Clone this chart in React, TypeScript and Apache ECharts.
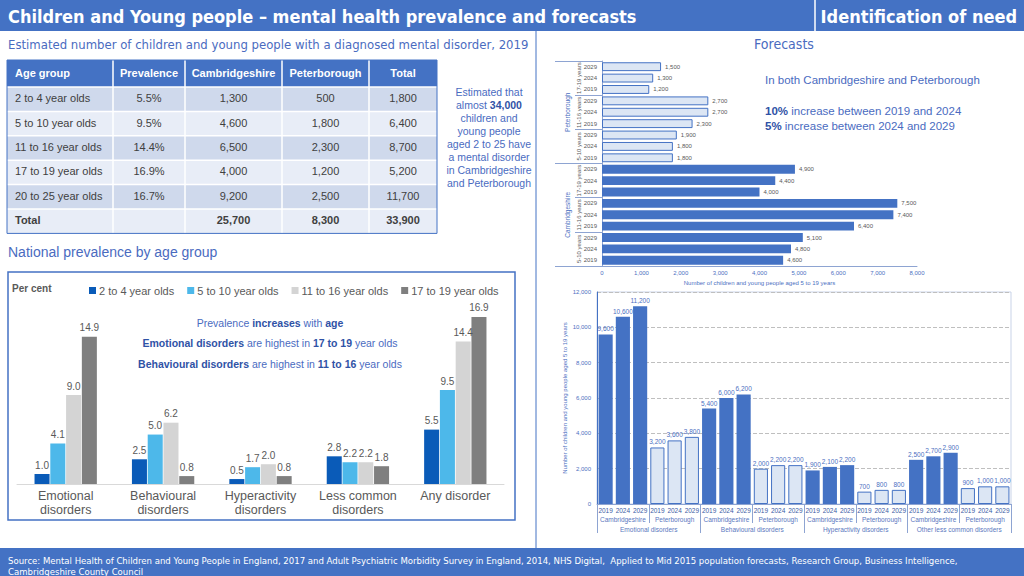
import React, { useEffect, useRef } from "react";
import * as echarts from "echarts";

// ---------- Data ----------
const tableHeaders = ["Age group", "Prevalence", "Cambridgeshire", "Peterborough", "Total"];
const ageGroups = ["2 to 4 year olds", "5 to 10 year olds", "11 to 16 year olds", "17 to 19 year olds", "20 to 25 year olds"];
const prevalenceRates = ["5.5%", "9.5%", "14.4%", "16.9%", "16.7%"];
const cambsCounts = [1300, 4600, 6500, 4000, 9200];
const pboroCounts = [500, 1800, 2300, 1200, 2500];
const totalCounts = [1800, 6400, 8700, 5200, 11700];
const tableTotals = [25700, 8300, 33900];

const prevCategories = ["Emotional\ndisorders", "Behavioural\ndisorders", "Hyperactivity\ndisorders", "Less common\ndisorders", "Any disorder"];
const prevSeriesNames = ["2 to 4 year olds", "5 to 10 year olds", "11 to 16 year olds", "17 to 19 year olds"];
const prev2to4 = [1.0, 2.5, 0.5, 2.8, 5.5];
const prev5to10 = [4.1, 5.0, 1.7, 2.2, 9.5];
const prev11to16 = [9.0, 6.2, 2.0, 2.2, 14.4];
const prev17to19 = [14.9, 0.8, 0.8, 1.8, 16.9];
const prevColors = ["#0A5BB8", "#4DB8EA", "#D4D4D4", "#7F7F7F"];

const fcRegions = ["Peterborough", "Cambridgeshire"];
const fcAges = ["17-19 years", "11-16 years", "5-10 years"];
const fcYears = ["2029", "2024", "2019"];
const fcPeterborough = [[1500, 1300, 1200], [2700, 2700, 2300], [1900, 1800, 1800]];
const fcCambridgeshire = [[4900, 4400, 4000], [7500, 7400, 6400], [5100, 4800, 4600]];
const fcTicks = { min: 0, max: 8000, step: 1000 };

const disorders = ["Emotional disorders", "Behavioural disorders", "Hyperactivity disorders", "Other less common disorders"];
const areas = ["Cambridgeshire", "Peterborough"];
const years = ["2019", "2024", "2029"];
const cambsByDisorder = [[9600, 10600, 11200], [5400, 6000, 6200], [1900, 2100, 2200], [2500, 2700, 2900]];
const pboroByDisorder = [[3200, 3600, 3800], [2000, 2200, 2200], [700, 800, 800], [900, 1000, 1000]];
const disTicks = { min: 0, max: 12000, step: 2000 };

// ---------- Styles ----------
const FONT = '"Liberation Sans", Arial, sans-serif';
const NARROW = '"Liberation Sans Narrow", "Arial Narrow", "DejaVu Sans Condensed", sans-serif';
const BLUE = "#4472C4";
const TXT_BLUE = "#4A6BBF";
const BOLD_BLUE = "#2F52A6";
const AXIS_BLUE = "#8EA4D2";
const fmt = (v: number) => Number(v).toLocaleString("en-US");

function buildGraphics() {
  const g: any[] = [];
  // header
  g.push({ type: "rect", shape: { x: 0, y: 0, width: 1024, height: 31 }, style: { fill: BLUE } });
  g.push({ type: "line", shape: { x1: 815, y1: 0, x2: 815, y2: 31 }, style: { stroke: "#fff", lineWidth: 1.5 } });
  g.push({ type: "text", x: 8, y: 16, style: { text: "Children and Young people – mental health prevalence and forecasts", fill: "#fff", fontSize: 18, fontWeight: "bold", fontFamily: NARROW, verticalAlign: "middle" } });
  g.push({ type: "text", x: 1017, y: 16, style: { text: "Identification of need", fill: "#fff", fontSize: 18, fontWeight: "bold", fontFamily: NARROW, align: "right", verticalAlign: "middle" } });
  // divider
  g.push({ type: "line", shape: { x1: 536, y1: 31, x2: 536, y2: 548 }, style: { stroke: BLUE, lineWidth: 1 } });
  // subtitles
  g.push({ type: "text", x: 8, y: 44, style: { text: "Estimated number of children and young people with a diagnosed mental disorder, 2019", fill: TXT_BLUE, fontSize: 13, fontFamily: NARROW, verticalAlign: "middle" } });
  g.push({ type: "text", x: 784, y: 44, style: { text: "Forecasts", fill: TXT_BLUE, fontSize: 14, fontFamily: NARROW, align: "center", verticalAlign: "middle" } });
  g.push({ type: "text", x: 8, y: 252, style: { text: "National prevalence by age group", fill: TXT_BLUE, fontSize: 14, fontFamily: FONT, verticalAlign: "middle" } });

  // table
  const colX = [7, 113, 185, 282, 369, 437];
  const top = 60;
  const headH = 27;
  const rowH = 24.4;
  const rowsY = [top, top + headH];
  for (let i = 1; i <= 6; i++) rowsY.push(top + headH + i * rowH);
  for (let r = 0; r < 7; r++) {
    const fill = r === 0 ? BLUE : r % 2 === 1 ? "#CFD9EC" : "#E8EDF7";
    g.push({ type: "rect", shape: { x: colX[0], y: rowsY[r], width: colX[5] - colX[0], height: rowsY[r + 1] - rowsY[r] }, style: { fill } });
  }
  for (let r = 1; r < 7; r++) g.push({ type: "line", shape: { x1: colX[0], y1: rowsY[r], x2: colX[5], y2: rowsY[r] }, style: { stroke: "#fff", lineWidth: 1.5 } });
  for (let c = 1; c < 5; c++) g.push({ type: "line", shape: { x1: colX[c], y1: rowsY[0], x2: colX[c], y2: rowsY[7] }, style: { stroke: "#fff", lineWidth: 1.5 } });
  g.push({ type: "rect", shape: { x: colX[0], y: rowsY[0], width: colX[5] - colX[0], height: rowsY[7] - rowsY[0] }, style: { fill: "none", stroke: BLUE, lineWidth: 1 } });
  const cellText = (r: number, c: number, text: string, bold: boolean, color: string) => {
    const yMid = (rowsY[r] + rowsY[r + 1]) / 2 - 1;
    const x = c === 0 ? colX[0] + 8 : (colX[c] + colX[c + 1]) / 2;
    g.push({ type: "text", x, y: yMid, style: { text, fill: color, fontSize: 11, fontWeight: bold ? "bold" : "normal", fontFamily: FONT, align: c === 0 ? "left" : "center", verticalAlign: "middle" } });
  };
  tableHeaders.forEach((h, c) => cellText(0, c, h, true, "#fff"));
  ageGroups.forEach((a, i) => {
    cellText(i + 1, 0, a, false, "#404040");
    cellText(i + 1, 1, prevalenceRates[i], false, "#404040");
    cellText(i + 1, 2, fmt(cambsCounts[i]), false, "#404040");
    cellText(i + 1, 3, fmt(pboroCounts[i]), false, "#404040");
    cellText(i + 1, 4, fmt(totalCounts[i]), false, "#404040");
  });
  cellText(6, 0, "Total", true, "#404040");
  tableTotals.forEach((t, i) => cellText(6, i + 2, fmt(t), true, "#404040"));

  // callout text next to table
  const callout = ["{r|Estimated that}", "{r|almost }{b|34,000}", "{r|children and}", "{r|young people}", "{r|aged 2 to 25 have}", "{r|a mental disorder}", "{r|in Cambridgeshire}", "{r|and Peterborough}"];
  callout.forEach((t, i) => {
    g.push({ type: "text", x: 489, y: 92 + i * 13, style: { text: t, align: "center", verticalAlign: "middle", rich: { r: { fontSize: 10.5, fill: TXT_BLUE, fontFamily: FONT }, b: { fontSize: 10.5, fill: BOLD_BLUE, fontWeight: "bold", fontFamily: FONT } } } });
  });

  // forecast notes
  const richNote = { r: { fontSize: 11.5, fill: TXT_BLUE, fontFamily: FONT }, b: { fontSize: 11.5, fill: BOLD_BLUE, fontWeight: "bold", fontFamily: FONT } };
  g.push({ type: "text", x: 765, y: 80, style: { text: "{r|In both Cambridgeshire and Peterborough}", verticalAlign: "middle", rich: richNote } });
  g.push({ type: "text", x: 765, y: 111, style: { text: "{b|10%}{r| increase between 2019 and 2024}", verticalAlign: "middle", rich: richNote } });
  g.push({ type: "text", x: 765, y: 126, style: { text: "{b|5%}{r| increase between 2024 and 2029}", verticalAlign: "middle", rich: richNote } });

  // prevalence chart box and notes
  g.push({ type: "rect", shape: { x: 8, y: 272, width: 507, height: 248 }, style: { fill: "none", stroke: BLUE, lineWidth: 1.5 } });
  g.push({ type: "text", x: 12, y: 288, style: { text: "Per cent", fill: "#595959", fontSize: 10, fontWeight: "bold", fontFamily: FONT, verticalAlign: "middle" } });
  const richPrev = { r: { fontSize: 10.5, fill: TXT_BLUE, fontFamily: FONT }, b: { fontSize: 10.5, fill: BOLD_BLUE, fontWeight: "bold", fontFamily: FONT } };
  g.push({ type: "text", x: 270, y: 323, style: { text: "{r|Prevalence }{b|increases}{r| with }{b|age}", align: "center", verticalAlign: "middle", rich: richPrev } });
  g.push({ type: "text", x: 270, y: 343, style: { text: "{b|Emotional disorders}{r| are highest in }{b|17 to 19}{r| year olds}", align: "center", verticalAlign: "middle", rich: richPrev } });
  g.push({ type: "text", x: 270, y: 364, style: { text: "{b|Behavioural disorders}{r| are highest in }{b|11 to 16}{r| year olds}", align: "center", verticalAlign: "middle", rich: richPrev } });

  // footer
  g.push({ type: "rect", shape: { x: 0, y: 548, width: 1024, height: 28 }, style: { fill: BLUE } });
  g.push({ type: "text", x: 8, y: 560, style: { text: "Source: Mental Health of Children and Young People in England, 2017 and Adult Psychiatric Morbidity Survey in England, 2014, NHS Digital,  Applied to Mid 2015 population forecasts, Research Group, Business Intelligence,", fill: "#fff", fontSize: 9.5, fontFamily: NARROW, verticalAlign: "middle" } });
  g.push({ type: "text", x: 8, y: 571, style: { text: "Cambridgeshire County Council", fill: "#fff", fontSize: 9.5, fontFamily: NARROW, verticalAlign: "middle" } });
  return g;
}

function buildOption() {
  // forecasts (horizontal)
  const fcKeys: string[] = [];
  const fcData: any[] = [];
  const fcAgeKeys: string[] = [];
  fcRegions.forEach((region, ri) => {
    const vals = ri === 0 ? fcPeterborough : fcCambridgeshire;
    fcAges.forEach((age, ai) => {
      fcAgeKeys.push(`${region}|${age}`);
      fcYears.forEach((yr, yi) => {
        fcKeys.push(`${region}|${age}|${yr}`);
        fcData.push({
          value: vals[ai][yi],
          itemStyle: ri === 0 ? { color: "#DCE6F4", borderColor: BLUE, borderWidth: 1 } : { color: BLUE },
        });
      });
    });
  });

  // disorders (vertical)
  const disKeys: string[] = [];
  const disAreaKeys: string[] = [];
  const disData: any[] = [];
  disorders.forEach((d, di) => {
    areas.forEach((a, ai) => {
      disAreaKeys.push(`${d}|${a}`);
      const vals = ai === 0 ? cambsByDisorder[di] : pboroByDisorder[di];
      years.forEach((y, yi) => {
        disKeys.push(`${d}|${a}|${y}`);
        disData.push({
          value: vals[yi],
          itemStyle: ai === 0 ? { color: BLUE } : { color: "#DCE6F4", borderColor: BLUE, borderWidth: 1 },
        });
      });
    });
  });

  const prevValues = [prev2to4, prev5to10, prev11to16, prev17to19];

  return {
    animation: false,
    textStyle: { fontFamily: FONT },
    graphic: { elements: buildGraphics() },
    legend: {
      data: prevSeriesNames,
      left: 84,
      top: 280,
      itemWidth: 7,
      itemHeight: 7,
      itemGap: 13,
      icon: "rect",
      textStyle: { fontSize: 11, color: "#595959", fontFamily: FONT, padding: [0, 0, 0, -2] },
    },
    grid: [
      { left: 17, right: 520, top: 306, bottom: 92 },
      { left: 602, right: 107, top: 61, bottom: 310 },
      { left: 597, right: 13, top: 292, bottom: 72, show: true, borderColor: "#C9D3E8", borderWidth: 1, backgroundColor: "transparent" },
    ],
    xAxis: [
      {
        gridIndex: 0, type: "category", data: prevCategories,
        axisLine: { lineStyle: { color: "#D9D9D9" } }, axisTick: { show: false },
        axisLabel: { fontSize: 12.5, color: "#595959", lineHeight: 14, margin: 5, interval: 0 },
      },
      {
        gridIndex: 1, type: "value", min: fcTicks.min, max: fcTicks.max, interval: fcTicks.step,
        axisLine: { show: true, lineStyle: { color: AXIS_BLUE } }, axisTick: { show: false }, splitLine: { show: false },
        axisLabel: { fontSize: 6, color: "#4D6FBF", formatter: (v: number) => fmt(v), margin: 4 },
        name: "Number of children and young people aged 5 to 19 years", nameLocation: "middle", nameGap: 14,
        nameTextStyle: { fontSize: 6, color: "#4D6FBF" },
      },
      {
        gridIndex: 2, type: "category", data: disKeys,
        axisLine: { lineStyle: { color: AXIS_BLUE } }, axisTick: { show: false },
        axisLabel: { formatter: (k: string) => k.split("|")[2], interval: 0, fontSize: 6.5, margin: 3, color: "#3B5BA5" },
      },
      {
        gridIndex: 2, type: "category", data: disAreaKeys, position: "bottom",
        axisLine: { show: false },
        axisTick: { show: true, length: 19, interval: 0, lineStyle: { color: AXIS_BLUE } },
        axisLabel: { formatter: (k: string) => k.split("|")[1], interval: 0, fontSize: 6.5, margin: 12, color: "#5A78C0" },
      },
      {
        gridIndex: 2, type: "category", data: disorders, position: "bottom",
        axisLine: { show: false },
        axisTick: { show: true, length: 29, interval: 0, lineStyle: { color: AXIS_BLUE } },
        axisLabel: { interval: 0, fontSize: 6.5, margin: 22, color: "#5A78C0" },
      },
    ],
    yAxis: [
      { gridIndex: 0, type: "value", min: 0, max: 18, show: false },
      {
        gridIndex: 1, type: "category", data: fcKeys, inverse: true,
        axisLine: { lineStyle: { color: AXIS_BLUE } }, axisTick: { show: false },
        axisLabel: { formatter: (k: string) => k.split("|")[2], fontSize: 6, color: "#595959", margin: 5, interval: 0 },
      },
      {
        gridIndex: 1, type: "category", data: fcAgeKeys, inverse: true, position: "left",
        axisLine: { show: false },
        axisTick: { show: true, length: 27, interval: 0, lineStyle: { color: AXIS_BLUE } },
        axisLabel: { rotate: 90, formatter: (k: string) => k.split("|")[1], fontSize: 6, color: "#595959", margin: 20, interval: 0 },
      },
      {
        gridIndex: 1, type: "category", data: fcRegions, inverse: true, position: "left",
        axisLine: { show: false },
        axisTick: { show: true, length: 47, interval: 0, lineStyle: { color: AXIS_BLUE } },
        axisLabel: { rotate: 90, fontSize: 6.5, color: "#4D6FBF", margin: 31, interval: 0 },
      },
      {
        gridIndex: 2, type: "value", min: disTicks.min, max: disTicks.max, interval: disTicks.step,
        axisLine: { show: true, lineStyle: { color: BLUE } }, axisTick: { show: false },
        splitLine: { lineStyle: { type: "dashed", color: "#BFBFBF" } },
        axisLabel: { fontSize: 6, color: "#4D6FBF", formatter: (v: number) => fmt(v), margin: 6 },
        name: "Number of children and young people aged 5 to 19 years", nameLocation: "middle", nameGap: 29,
        nameTextStyle: { fontSize: 6, color: "#4D6FBF" },
      },
    ],
    series: [
      ...prevSeriesNames.map((name, i) => ({
        name, type: "bar", xAxisIndex: 0, yAxisIndex: 0,
        data: prevValues[i],
        itemStyle: { color: prevColors[i] },
        barGap: "5%", barCategoryGap: "36%",
        label: { show: true, position: "top", fontSize: 10, color: "#595959", distance: 4, formatter: (p: any) => Number(p.value).toFixed(1) },
      })),
      {
        name: "Forecasts", type: "bar", xAxisIndex: 1, yAxisIndex: 1,
        data: fcData, barCategoryGap: "22%",
        label: { show: true, position: "right", fontSize: 6, color: "#595959", distance: 4, formatter: (p: any) => fmt(p.value) },
      },
      {
        name: "Disorders", type: "bar", xAxisIndex: 2, yAxisIndex: 4,
        data: disData, barCategoryGap: "18%",
        label: { show: true, position: "top", fontSize: 6.5, color: "#4D6FBF", distance: 2, formatter: (p: any) => fmt(p.value) },
      },
    ],
  };
}

export default function App() {
  const ref = useRef<HTMLDivElement>(null);
  useEffect(() => {
    if (!ref.current) return;
    const chart = echarts.init(ref.current, undefined, { renderer: "svg" });
    chart.setOption(buildOption() as any);
    return () => chart.dispose();
  }, []);
  return (
    <div
      ref={ref}
      style={{ position: "absolute", left: 0, top: 0, width: 1024, height: 576, background: "#fff" }}
    />
  );
}
